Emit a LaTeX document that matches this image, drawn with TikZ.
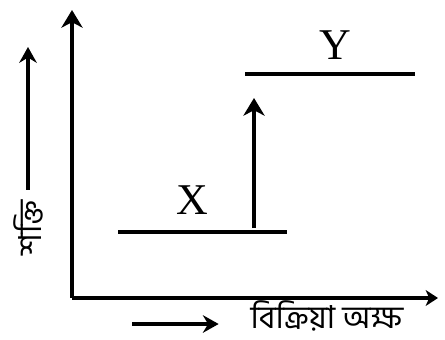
\documentclass[tikz,border=0pt]{standalone}
\usepackage{fontspec}
\setmainfont{Liberation Serif}
\newfontfamily\bnfont[Script=Bengali]{Hind Siliguri}
\usetikzlibrary{arrows.meta}

\begin{document}
\begin{tikzpicture}[scale=1.0,
  axis/.style={line width=2pt,-{Stealth[length=10pt,width=12pt,inset=3pt]}},
  hint/.style={line width=2pt,-{Stealth[length=9pt,width=10pt,inset=3pt]}},
  level/.style={line width=2.2pt},
  lbl/.style={inner sep=0pt,font=\fontsize{25}{30}\selectfont},
  bn/.style={inner sep=0pt,font=\bnfont\fontsize{18}{22}\selectfont}]
\useasboundingbox (0,0) rectangle (8.9,6.78);
% axes
\coordinate (O) at (1.44,0.82);
\coordinate (ytop) at (1.44,6.58);
\coordinate (xend) at (8.76,0.82);
\draw[axis] (O) -- (ytop);
\draw[line width=2pt,-{Stealth[length=7pt,width=9pt,inset=2pt]}] (O) -- (xend);
% energy levels
\coordinate (xa) at (2.36,2.14);
\coordinate (xb) at (5.74,2.14);
\coordinate (ya) at (4.90,5.30);
\coordinate (yb) at (8.30,5.30);
\draw[level] (xa) -- (xb);
\draw[level] (ya) -- (yb);
\node[lbl] (X) at (3.84,2.78) {X};
\node[lbl] (Y) at (6.70,5.88) {Y};
\coordinate (up0) at (5.08,2.22);
\coordinate (up1) at (5.08,4.82);
\draw[axis] (up0) -- (up1);
% axis titles
\node[bn,rotate=90] (en) at (0.56,2.22) {শক্তি};
\coordinate (entop) at (0.56,5.84);
\draw[hint] ([yshift=6pt]en.east) -- (entop);
\node[bn] (rx) at (6.54,0.46) {বিক্রিয়া অক্ষ};
\coordinate (rxl) at (2.64,0.30);
\draw[hint] (rxl) -- ([xshift=-18pt]rx.west |- rxl);
\end{tikzpicture}
\end{document}
